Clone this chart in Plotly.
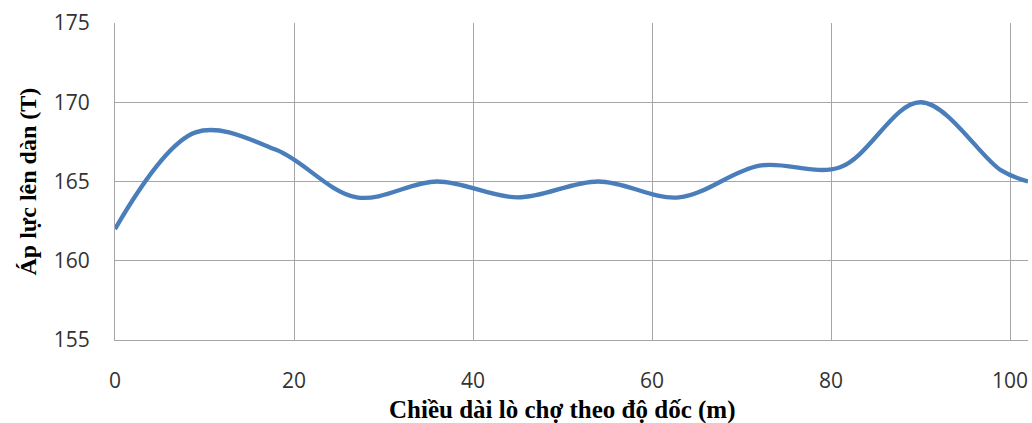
import plotly.graph_objects as go

distance_m = [0, 9, 18, 27, 36, 45, 54, 63, 72, 81, 90, 99, 102]
pressure_t = [162, 168.1, 167, 164, 165, 164, 165, 164, 166, 165.9, 170, 165.7, 165]
x_ticks = [0, 20, 40, 60, 80, 100]
y_ticks = [155, 160, 165, 170, 175]
x_title = "Chiều dài lò chợ theo độ dốc (m)"
y_title = "Áp lực lên dàn (T)"

fig = go.Figure()
fig.add_trace(go.Scatter(
    x=distance_m, y=pressure_t, mode="lines",
    line=dict(color="#4a7ebb", width=4.3, shape="spline", smoothing=1.0),
    showlegend=False, hoverinfo="skip",
))

title_font = dict(family="Liberation Serif, Times New Roman, serif", size=24,
                  color="#000000", weight="bold")

fig.update_layout(
    width=1032, height=423,
    margin=dict(l=115, r=4, t=23, b=83),
    paper_bgcolor="white", plot_bgcolor="white",
    font=dict(family="Open Sans, Liberation Sans, sans-serif", size=21, color="#333333"),
    annotations=[
        dict(text=x_title, xref="paper", yref="paper", x=0.49, y=0,
             xanchor="center", yanchor="middle", yshift=-70,
             showarrow=False, font=dict(title_font, size=25)),
        dict(text=y_title, xref="paper", yref="paper", x=0, y=0.5,
             xanchor="center", yanchor="middle", xshift=-88, textangle=-90,
             showarrow=False, font=title_font),
    ],
)
fig.update_xaxes(
    range=[0, 102], tickvals=x_ticks, showgrid=True, gridcolor="#a6a6a6", gridwidth=1,
    showline=True, linecolor="#a6a6a6", linewidth=1, zeroline=False,
    ticks="", ticklabelstandoff=22, automargin=False,
)
fig.update_yaxes(
    range=[155, 175], tickvals=y_ticks, showgrid=True, gridcolor="#a6a6a6", gridwidth=1,
    showline=True, linecolor="#a6a6a6", linewidth=1, zeroline=False,
    ticks="", ticklabelstandoff=20, automargin=False,
)

fig.write_html(
    "out.html",
    config={"displayModeBar": False},
    post_script="document.body.style.margin='0';document.body.style.overflow='hidden';",
)
